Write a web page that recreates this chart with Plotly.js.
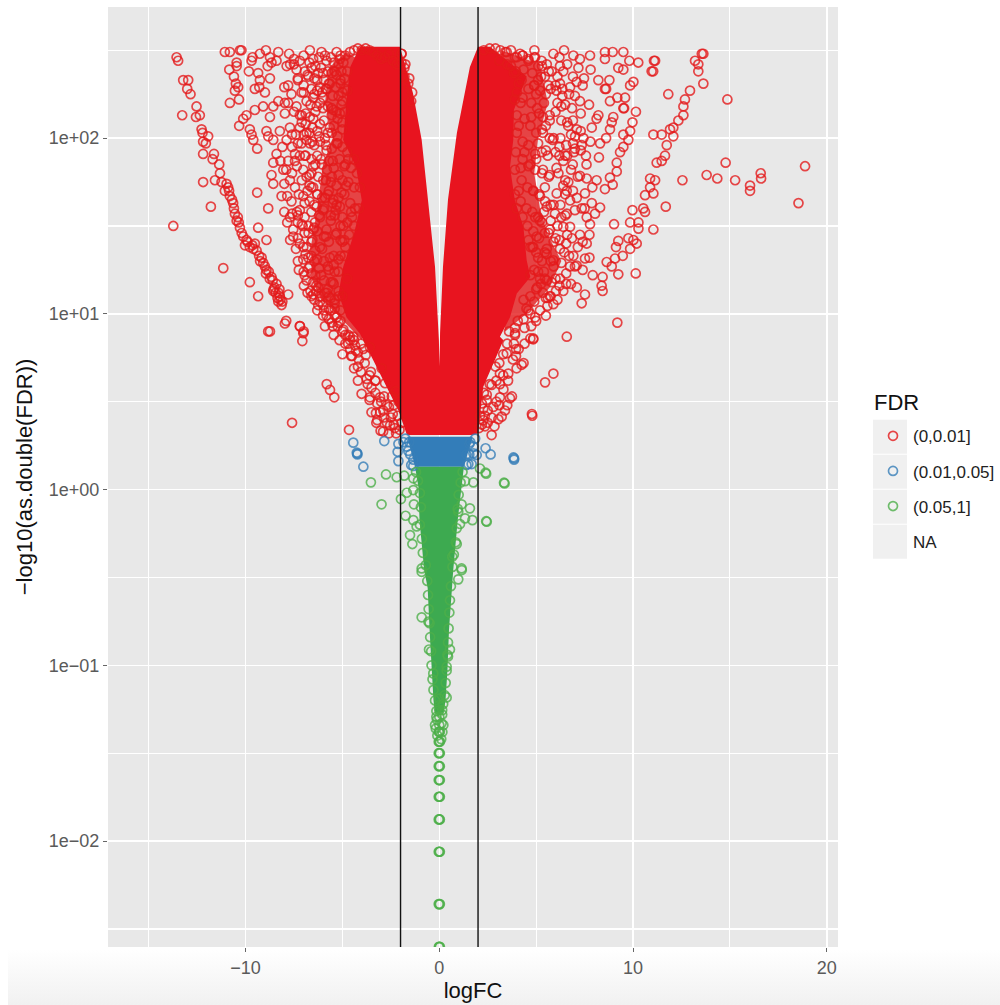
<!DOCTYPE html>
<html><head><meta charset="utf-8">
<script src="https://cdn.plot.ly/plotly-3.0.1.min.js"></script>
<style>
html,body{margin:0;padding:0;background:#fff;width:1000px;height:1005px;overflow:hidden}
#fade{position:absolute;left:8px;top:950px;width:992px;height:55px;background:linear-gradient(#ffffff,#f1f1f1)}
#plot{position:absolute;left:0;top:0;width:1000px;height:1005px}
</style></head><body><div id="fade"></div><div id="plot"></div>
<script>
// logFC and log10 of -log10(FDR)
const redLogFC=[-13.56,-13.48,-13.22,-12.96,-13.01,-12.84,-12.53,-12.56,-12.36,-13.27,-12.27,-12.22,-11.93,-12.19,-12.05,-12.19,-11.63,-11.7,-11.36,-11.32,-11.58,-12.19,-11.24,-10.98,-11.07,-10.81,-10.64,-11.79,-10.55,-10.46,-13.73,-10.29,-10.12,-10.03,-9.78,-9.52,-9.43,-9.17,-9.09,-8.92,-11.15,-8.66,-8.4,-8.57,-8.23,-8.14,-8.31,-7.8,-9.35,-9.78,-9.35,-8.92,-9.4,-8.83,-7.9,-8.83,-7.2,-7.0,
-10.9,-10.7,-10.4,-10.2,-9.9,-9.6,-9.3,-9.0,-8.8,-8.6,-8.5,-8.45,-8.3,-8.2,-8.35,-8.1,-10.85,-10.6,-10.35,-9.95,-9.65,-9.25,-8.95,-8.75,-8.55,-8.25,
-11.07,-10.81,-10.29,-10.21,-10.46,-10.84,-10.46,-10.6,-10.5,-10.55,-10.38,-10.34,-10.81,-9.83,-9.69,-9.64,-9.26,-8.95,-8.74,-8.66,-8.86,-8.4,-8.31,-7.75,-9.35,-9.26,-8.74,-9.52,-9.29,-9.0,-8.0,-7.88,-7.37,-6.94,-7.63,-7.11,-9.52,-9.09,-9.95,-10.12,-10.33,-9.78,-9.69,-9.6,-9.4,-8.92,-8.83,-8.31,-7.97,-7.8,-8.57,-8.74,-7.97,-7.71,-8.23,-8.57,-7.88,-8.4,-8.57,-7.8,-7.45,-7.11,-6.68,-7.2,-7.2,-7.37,-6.68,-6.08,-5.3,-4.61,-7.2,-6.51,-5.82,-5.13,-6.16,-6.51,-5.99,-6.33,-5.65,-6.68,-6.16,-5.13,-5.47,-8.05,-7.45,-8.66,-8.57,-7.71,-7.02,-6.51,-5.82,-8.14,-7.63,-7.02,-6.51,-5.99,-7.71,-7.2,-6.42,-7.54,-7.54,-7.02,-7.02,-6.76,-6.68,-6.16,-5.65,-6.99,-6.16,-5.82,-5.1,-5.82,-5.13,-6.33,-5.47,
-7.5,-7.3,-7.0,-6.8,-6.6,-6.3,-6.0,-5.7,-5.4,-5.1,-7.4,-7.1,-6.85,-6.55,-6.2,-5.9,-5.55,-5.25,-6.95,-6.7,-6.4,-6.1,-5.8,-5.5,-5.2,-4.9,-7.3,-7.05,-6.75,-6.45,-6.15,-5.85,-5.6,-5.3,-5.0,-6.9,-6.6,-6.3,-6.05,-5.75,-5.45,-7.25,-6.95,-6.65,-6.35,-6.1,-5.8,-5.5,-5.2,-6.5,-6.25,-5.95,-5.7,-5.4,-6.6,-6.3,-6.0,-5.7,-5.4,-5.1,-6.45,-6.15,-5.85,-5.55,-5.25,-5.0,-4.75,-5.9,-5.6,-5.3,-5.05,-4.8,-4.55,
-4.4,-4.2,-4.0,-3.8,-3.6,-3.4,-3.2,-3.0,-2.8,-2.6,-2.4,-2.2,-1.95,-1.8,-1.6,-1.45,-4.75,-4.9,-4.95,-5.0,-5.2,-5.4,-5.6,-5.3,-5.5,-5.2,-5.0,-4.85,-4.6,-4.35,-4.2,
-7.97,-7.19,-7.02,-7.07,-8.74,-4.61,-4.7,-4.44,-3.92,-3.8,-3.58,-3.53,-2.98,-2.8,-5.81,-5.64,-5.42,-4.01,-3.58,-3.06,-2.89,-3.27,-3.2,-3.03,-2.54,-2.23,-4.66,-7.6,-4.2,-4.5,-3.7,-3.3,-3.0,-2.7,-2.5,-2.35,
4.91,4.17,3.48,5.28,5.89,6.44,6.92,7.26,7.78,8.55,8.95,9.5,8.55,9.81,10.27,11.14,11.08,10.96,11.04,9.24,9.5,7.81,7.18,6.23,5.11,8.21,7.47,7.09,8.78,8.61,8.55,6.75,6.23,5.63,9.85,10.02,12.94,11.82,13.63,13.63,13.55,13.2,13.37,13.37,12.68,14.87,12.6,12.6,12.34,12.08,11.91,12.08,11.74,11.05,11.48,10.15,9.54,9.5,9.59,9.19,8.81,7.73,7.26,8.21,8.12,7.87,8.98,8.9,9.97,9.85,9.5,8.81,8.61,8.3,7.3,7.44,7.01,7.35,9.76,9.5,9.33,8.24,7.57,6.95,9.16,9.16,6.89,11.65,11.48,11.22,14.78,18.88,13.8,14.35,15.27,12.55,16.59,16.61,16.04,16.04,18.54,11.69,10.88,11.14,10.88,10.62,11.05,10.53,9.97,10.62,9.85,10.28,10.28,9.02,11.05,9.76,9.24,10.02,10.19,9.12,9.85,9.47,9.07,8.64,8.9,9.24,10.14,7.92,8.43,8.38,8.43,7.52,7.35,5.89,5.58,6.4,6.02,9.19,6.58,4.85,3.91,7.52,7.75,7.61,7.78,7.61,7.35,8.3,7.87,8.04,8.55,8.95,8.81,8.12,7.61,7.26,6.66,6.58,7.52,6.75,6.06,5.46,6.58,6.4,5.97,6.75,7.26,5.54,6.23,6.92,7.09,6.23,5.54,5.89,6.75,5.03,5.2,5.71,
5.0,5.4,6.0,5.3,5.7,6.3,6.6,5.1,5.5,5.9,6.2,6.5,6.9,4.9,5.25,5.65,6.05,6.35,4.75,5.15,5.5,5.85,6.2,4.7,5.0,5.35,5.7,6.05,4.85,5.2,5.55,5.9,4.95,5.3,5.65,6.0,4.8,5.1,5.45,5.75,4.7,5.05,5.4,5.7,6.1,4.9,5.25,5.6,4.6,4.95,
2.3,2.6,2.9,3.15,3.4,3.7,4.0,4.3,4.6,3.1,3.5,3.85,4.25,
4.85,5.46,5.89,4.8,4.78,3.96,3.96,4.25,3.99,3.56,3.13,2.7,3.13,3.31,3.65,3.13,2.45,3.51,2.79,3.39,2.27,3.22,2.7,2.27,2.36,2.7,3.91,3.48,
-1.95,-1.75,-1.55,-1.4,-1.95,-1.8];
const redLogY=[2.46,2.44,2.33,2.33,2.28,2.25,2.18,2.12,2.13,2.13,2.05,2.03,2.01,1.98,1.97,1.91,1.91,1.88,1.85,1.80,1.76,1.75,1.75,1.74,1.70,1.67,1.63,1.61,1.57,1.53,1.50,1.49,1.44,1.39,1.38,1.40,1.36,1.32,1.29,1.25,1.26,1.21,1.17,1.13,1.10,1.05,1.07,1.11,1.10,1.18,1.49,1.42,1.69,1.60,.96,.90,.93,.90,
1.72,1.65,1.55,1.46,1.41,1.37,1.33,1.27,1.24,1.19,1.15,1.12,1.12,1.08,1.09,1.07,1.70,1.60,1.52,1.42,1.39,1.30,1.23,1.20,1.14,1.14,
2.49,2.49,2.50,2.50,2.43,2.39,2.41,2.35,2.31,2.27,2.29,2.22,2.20,2.38,2.44,2.46,2.48,2.50,2.46,2.43,2.41,2.44,2.49,2.48,2.37,2.33,2.34,2.28,2.29,2.26,2.29,2.41,2.39,2.38,2.25,2.26,2.16,2.18,2.13,2.11,2.07,2.05,2.02,1.99,1.94,2.04,2.01,2.21,2.20,2.20,2.18,2.12,2.14,2.06,2.04,1.99,1.99,1.91,1.86,1.87,1.91,1.97,1.97,2.06,2.13,2.18,2.50,2.49,2.49,2.49,2.44,2.45,2.44,2.45,2.29,2.23,2.23,2.18,2.06,2.12,2.08,2.14,2.16,1.82,1.87,1.79,1.74,1.76,1.82,1.84,1.93,1.67,1.64,1.67,1.72,1.76,1.55,1.59,1.52,1.48,1.44,1.38,1.31,1.32,1.27,1.38,1.32,1.16,1.07,.99,.96,1.48,1.61,1.61,1.65,
2.42,2.34,2.30,2.36,2.40,2.33,2.37,2.31,2.38,2.33,2.02,2.09,2.03,1.98,2.01,2.0,2.03,1.97,1.90,1.79,1.85,1.88,1.82,1.87,1.79,1.84,1.56,1.50,1.46,1.49,1.55,1.44,1.53,1.46,1.41,1.34,1.41,1.31,1.37,1.27,1.33,1.25,1.22,1.13,1.16,1.22,1.12,1.18,1.10,1.11,1.05,1.02,1.10,1.03,1.72,1.68,1.59,1.70,1.56,1.50,2.25,2.20,2.28,2.17,2.11,2.21,2.27,1.66,1.75,1.62,1.69,1.73,1.58,
2.50,2.51,2.50,2.51,2.50,2.49,2.47,2.45,2.46,2.48,2.44,2.42,2.48,2.40,2.31,2.21,1.20,1.33,1.50,1.10,1.24,1.08,1.02,.98,.93,.95,.90,.88,.85,.82,.78,
.945,.93,.89,.845,.90,.87,.83,.87,.80,.765,.81,.67,.69,.605,.60,.567,.525,.545,.525,.525,.45,.435,.395,.335,.365,.32,.34,.38,.70,.76,.60,.62,.50,.48,.41,.37,
2.50,2.48,2.49,2.44,2.48,2.50,2.47,2.45,2.47,2.49,2.49,2.49,2.45,2.44,2.43,2.44,2.44,2.38,2.38,2.40,2.39,2.39,2.40,2.41,2.41,2.33,2.34,2.32,2.33,2.28,2.28,2.29,2.31,2.30,2.30,2.32,2.27,2.25,2.31,2.48,2.48,2.44,2.42,2.38,2.22,2.22,2.18,2.13,2.10,2.06,2.05,2.01,1.96,2.02,2.02,2.15,2.17,2.17,2.23,2.23,2.21,2.19,2.21,2.13,2.11,2.06,2.12,2.09,2.09,2.04,2.02,2.05,2.0,1.97,2.04,2.0,2.01,1.96,1.99,1.95,1.92,1.89,1.90,1.92,1.86,1.81,1.85,1.90,1.87,1.86,1.86,1.84,1.79,1.77,1.76,1.76,1.80,1.77,1.73,1.70,1.63,1.61,1.77,1.76,1.72,1.675,1.685,1.60,1.59,1.58,1.52,1.52,1.485,1.51,1.48,1.43,1.415,1.42,1.40,1.38,1.37,1.33,1.315,1.295,1.27,1.225,1.23,1.22,1.21,1.16,1.13,1.11,1.06,1.055,1.045,1.13,1.13,.95,.87,.86,.88,1.315,1.45,1.40,1.51,1.55,1.60,1.605,1.63,1.57,1.71,1.735,1.775,1.76,1.77,1.785,1.75,1.70,1.685,1.645,1.685,1.64,1.57,1.495,1.57,1.495,1.45,1.34,1.37,1.33,1.275,1.20,1.19,1.305,1.27,1.44,1.53,1.48,
2.25,2.20,2.15,2.05,2.10,2.18,2.09,1.97,1.93,2.0,1.95,1.90,1.97,2.30,2.35,2.38,2.27,2.24,2.12,2.14,2.07,1.99,1.90,1.85,1.88,1.82,1.79,1.83,1.70,1.67,1.61,1.62,1.55,1.52,1.46,1.43,1.38,1.32,1.35,1.30,1.22,1.15,1.24,1.10,1.08,1.25,1.17,1.09,1.02,.98,
2.50,2.51,2.51,2.50,2.49,2.50,2.46,2.47,2.45,2.44,2.42,2.37,2.33,
.855,.61,.66,.42,.43,.80,.76,.71,.69,.66,.66,.595,.60,.57,.52,.525,.51,.48,.47,.45,.46,.415,.41,.395,.36,.31,.89,.775,
2.48,2.42,2.34,2.26,2.43,2.35];
const crowdLeftLogFC=[-6.2,-5.9,-5.6,-5.45,-5.2,-4.95,-6.4,-6.1,-5.75,-5.55,-5.3,-5.05,-6.75,-6.45,-6.25,-5.95,-5.65,-5.35,-5.1,-4.9,-6.3,-6.05,-5.8,-5.5,-5.2,-5.0,-6.85,-6.65,-6.4,-6.0,-5.75,-5.55,-5.3,-5.05,-6.9,-6.55,-6.3,-5.95,-5.75,-5.45,-5.25,-5.0,-6.85,-6.45,-6.15,-5.85,-5.55,-5.3,-5.0,-4.75,-7.2,-6.9,-6.6,-6.3,-6.05,-5.7,-5.45,-5.15,-4.85,-4.55,-6.85,-6.6,-6.25,-5.85,-5.55,-5.3,-5.0,-4.7,-4.4,-6.8,-6.3,-6.05,-5.75,-5.5,-5.2,-4.9,-4.6,-4.35,-7.3,-6.95,-6.6,-6.2,-5.95,-5.6,-5.35,-5.0,-4.75,-4.5,-7.3,-6.95,-6.55,-6.3,-5.95,-5.7,-5.35,-5.1,-4.85,-6.75,-6.45,-6.2,-5.95,-5.7,-5.45,-5.2,-6.5,-6.25,-5.95,-5.75,-5.45,-5.2,-6.45,-6.0,-5.7,-5.4,-5.1,-5.55,-5.25,-4.95,-4.7,-4.4,-4.05,-4.55,-4.15,-3.85,-3.6,-3.3,-3.3,-2.85,-2.6,-2.4,-2.7,-2.3,-2.05,-1.95,-2.1,
-7.7,-7.5,-7.0,-6.7,-7.3,-7.8,-7.0,-6.6,-7.5,-7.1,-6.9,-6.5,-7.6,-7.3,-7.0,-6.7,-8.1,-7.6,-8.2,-7.9,-7.6,-7.35,-7.1,-6.7,-8.0,-7.85,-7.45,-7.25,-6.95,-6.7,-6.45,-8.0,-7.85,-7.6,-7.35,-7.1,-6.75,-6.5,-7.7,-7.4,-7.2,-6.85,-6.6,-6.4,-7.3,-7.0,-6.85,-6.6,-6.4,-6.8,-6.6,-6.35,-6.15,-6.3,-6.0,-5.7,-5.4,-5.9,-5.45,-5.15,-4.85,-5.0,-4.6,-4.3,-4.4,-4.05,-3.75,-4.2,-3.5,-3.6,-3.2,-3.05,-2.85,-3.5,-3.25,-2.9,-2.6,-2.35,-2.15,-2.25,-2.45,
-5.1,-4.85,-4.75,-4.85,-4.9,-5.0,-4.7,-4.4,-4.25,-4.1,-4.15,-4.4,-4.65,-4.9,-5.1,-5.4,-5.6,-5.9,-5.6];
const crowdLeftLogY=[2.46,2.47,2.46,2.43,2.42,2.43,2.41,2.4,2.38,2.37,2.36,2.38,2.35,2.34,2.37,2.33,2.31,2.29,2.31,2.34,2.27,2.26,2.28,2.24,2.24,2.26,2.21,2.19,2.15,2.17,2.18,2.13,2.15,2.19,2.08,2.06,2.04,2.10,2.03,2.07,2.01,2.09,1.99,1.96,1.98,1.96,1.94,1.97,1.95,1.92,1.9,1.9,1.88,1.9,1.85,1.87,1.83,1.88,1.85,1.83,1.78,1.8,1.78,1.76,1.78,1.73,1.76,1.75,1.72,1.7,1.68,1.66,1.68,1.63,1.66,1.68,1.63,1.6,1.52,1.55,1.58,1.56,1.6,1.56,1.59,1.55,1.52,1.55,1.43,1.46,1.42,1.47,1.44,1.41,1.45,1.42,1.38,1.26,1.3,1.26,1.3,1.25,1.28,1.31,1.18,1.15,1.19,1.14,1.17,1.13,1.08,1.05,1.03,1.06,1.02,.95,.93,.91,.88,.85,.83,.76,.74,.72,.65,.62,.55,.53,.47,.43,.38,.35,.34,.38,.5,
2.42,2.45,2.47,2.43,2.33,2.3,2.26,2.28,2.15,2.13,2.14,2.11,2.02,1.97,2.02,2.03,1.95,1.95,1.87,1.82,1.8,1.84,1.76,1.73,1.74,1.67,1.72,1.68,1.63,1.64,1.62,1.58,1.52,1.57,1.58,1.51,1.5,1.48,1.42,1.37,1.4,1.38,1.33,1.36,1.3,1.24,1.19,1.23,1.22,1.12,1.1,1.13,1.1,1.02,.99,.97,.99,.93,.88,.85,.83,.77,.8,.79,.69,.67,.63,.62,.58,.51,.49,.44,.41,.44,.38,.33,.32,.48,.42,.56,.53,
2.47,2.47,2.38,2.28,2.15,2.05,1.88,1.88,1.8,1.72,1.6,1.5,1.45,1.42,1.33,1.24,1.18,1.12,1.09];
const crowdRightLogFC=[3.9,4.3,4.6,4.95,5.3,5.55,5.8,6.1,3.95,4.35,4.8,5.1,5.45,5.75,6.0,6.35,4.1,4.6,4.9,5.2,5.5,6.1,6.5,6.85,3.9,4.3,4.75,5.05,5.35,5.7,6.3,6.65,4.0,4.4,4.7,5.0,5.35,5.7,6.25,6.55,4.0,4.3,4.6,4.95,5.3,5.6,6.0,6.4,3.95,4.3,4.6,4.95,5.3,5.65,6.15,6.5,3.9,4.25,4.55,4.85,5.15,5.45,5.75,6.25,3.9,4.2,4.5,4.8,5.1,5.4,5.75,6.1,4.55,4.85,5.15,5.45,5.9,6.2,6.55,4.7,5.0,5.3,5.55,5.9,6.3,6.55,5.1,5.45,5.8,5.35,5.0,4.7,4.35,4.7,4.35,4.05,4.4,3.9,3.6,3.85,3.5,3.3,3.1,2.9,2.95,2.6,2.45,2.3,2.2,2.1,2.2,2.05,
6.2,6.6,6.4,6.9,7.4,6.7,7.0,7.3,6.9,7.1,6.8,7.0,6.6,7.3,7.8,7.6,6.8,7.15,6.5,6.9,7.1,6.4,7.9,6.3,6.5,7.0,7.5,6.6,6.85,7.15,7.4,6.45,6.7,7.0,7.4,7.75,6.55,6.2,6.0,5.75,6.8,7.1,5.5,5.2,5.0,4.75,5.5,4.7,4.4,4.1,4.35,3.8,3.55,3.3,3.75,3.1,2.95,2.5,2.5,2.85,3.05,2.35,
4.9,3.7,4.0,4.2,4.1,4.4,4.2,4.1,4.0,4.3,4.6,4.85,5.2,4.9,4.5];
const crowdRightLogY=[2.46,2.47,2.44,2.46,2.41,2.42,2.38,2.35,2.38,2.39,2.37,2.33,2.35,2.28,2.3,2.28,2.31,2.28,2.3,2.27,2.25,2.2,2.19,2.17,2.22,2.23,2.2,2.17,2.12,2.13,2.1,2.07,2.13,2.11,2.07,2.03,2.03,2.0,2.0,1.96,2.03,1.98,1.96,1.91,1.92,1.9,1.92,1.87,1.92,1.88,1.84,1.82,1.8,1.78,1.8,1.76,1.82,1.76,1.72,1.7,1.68,1.72,1.62,1.62,1.68,1.64,1.6,1.58,1.55,1.58,1.53,1.5,1.5,1.47,1.43,1.46,1.41,1.42,1.4,1.38,1.35,1.3,1.37,1.27,1.29,1.23,1.24,1.2,1.18,1.12,1.14,1.1,1.08,1.0,.97,.96,.92,.92,.9,.83,.83,.77,.72,.7,.62,.6,.54,.55,.49,.42,.37,.35,
2.46,2.42,2.38,2.35,2.3,2.25,2.24,2.14,2.1,2.05,2.02,1.94,1.9,1.93,1.98,1.85,1.82,1.78,1.68,1.7,1.66,1.73,1.72,1.55,1.56,1.59,1.6,1.45,1.43,1.38,1.41,1.35,1.33,1.27,1.25,1.32,1.17,1.16,1.2,1.1,1.17,1.15,1.09,1.02,.96,.93,.99,.86,.83,.8,.72,.74,.62,.65,.53,.48,.5,.45,.38,.36,.4,.42,
2.46,2.41,2.26,2.2,2.07,1.92,1.83,1.7,1.6,1.55,1.42,1.38,1.2,1.07,1.03];
const blueLogFC=[-4.44,-4.23,-4.23,-3.92,-2.84,-2.11,-2.15,-2.11,-1.34,-1.34,-1.68,1.5,1.76,1.93,1.67,2.39,2.65,3.86,3.86,3.83,1.76,-1.85,-1.6,1.55,1.4,-4.26,-1.55,-1.5,-1.45,1.6,1.55,1.4,-1.75,1.85];
const blueLogY=[.267,.205,.20,.13,.276,.26,.215,.162,.17,.134,.244,.145,.244,.197,.145,.235,.2,.177,.17,.183,.206,.27,.22,.26,.2,.21,.27,.2,.14,.27,.2,.14,.29,.29];
const greenLogFC=[-3.53,-2.75,-2.2,-1.81,-1.34,-2.98,-1.98,-1.68,-1.34,-1.31,-1.74,-1.34,-1.51,-1.39,-1.17,-.91,2.39,2.42,3.34,3.37,2.45,2.42,1.76,1.33,2.1,1.15,1.58,.98,1.33,1.71,1.07,.9,.67,1.15,-.91,1.16,.98,-.91,-.56,-.53,.55,.38,.38,-.31,.45,
0,0,0,0,0,0,0,0,0,0,0,0,0,0,0,.03,-.03,.03,-.03,.03,-.03,.03,-.03,.03,-.03,.03,-.03,.03,-.03,.03,-.03,.03,-.03,.03,-.22,.21,-.15,.15,-.02,
-1.2,-1.1,-1.0,-.95,-1.0,-.9,-.85,-.7,1.2,1.1,1.0,.95,.9,.85,.75,.68,-.62,.6,-.58,.55,-.55,.52,-.5,.48,-.47,.45,-.42,.42,-.4,.38,-.35,.33,-.3,.28,-.22,.2,-.15,.15,-.12,.12,-.18,.16,-.1,.1];
const greenLogY=[.041,.086,.07,.079,.064,-.084,-.054,-.018,-.003,-.084,-.149,-.174,-.259,-.31,-.21,-.449,.096,.09,.039,.035,-.183,-.18,.041,.048,.12,-.084,-.107,-.126,-.164,-.174,-.196,-.31,-.382,-.449,-.468,-.458,-.511,-.727,-.752,-.91,-.91,-1.008,-1.183,-1.046,-.95,
-1.19,-1.226,-1.255,-1.293,-1.34,-1.378,-1.435,-1.5,-1.574,-1.653,-1.748,-1.877,-2.061,-2.359,-2.602,-1.5,-1.5,-1.574,-1.574,-1.653,-1.653,-1.748,-1.748,-1.877,-1.877,-2.061,-2.061,-2.359,-2.359,-1.435,-1.435,-1.378,-1.378,-2.602,-1.34,-1.34,-1.293,-1.255,-2.602,
.1,.05,-.02,-.1,-.2,-.28,-.36,-.43,.1,.04,-.03,-.11,-.22,-.3,-.37,-.44,-.52,-.55,-.6,-.63,-.68,-.7,-.76,-.79,-.84,-.87,-.92,-.94,-1,-1.03,-1.08,-1.1,-1.14,-1.17,-1.2,-1.22,-1.26,-1.28,-1.31,-1.33,-1.36,-1.38,-1.4,-1.42];
// outlines of the solid masses where single rings can no longer be read
const solidRedLogFC=[-4.1,-4.6,-4.79,-4.96,-4.3,-4.0,-4.4,-4.96,-5.2,-4.79,-4.1,-3.58,-2.89,-2.11,-1.67,1.76,2.0,2.27,3.31,3.13,3.65,4.0,4.7,4.51,4.34,3.9,3.65,3.82,3.85,4.51,3.3,2.62,2.0,1.58,.91,.45,.19,.04,.01,-.02,-.22,-.58,-.91,-1.36,-1.94,-2.03,-4.1];
const solidRedLogY=[2.52,2.405,2.216,1.99,1.836,1.646,1.457,1.267,1.115,.98,.888,.775,.623,.45,.31,.31,.32,.585,.85,.87,.98,1.115,1.21,1.305,1.495,1.646,1.836,1.99,2.16,2.35,2.46,2.52,2.52,2.405,2.03,1.65,1.266,.89,.70,.85,1.266,1.65,1.99,2.257,2.485,2.52,2.52];
const denseLeftLogFC=[-4.8,-5.7,-5.9,-5.5,-6.0,-6.3,-6.6,-6.6,-6.1,-5.3,-4.0,-3.0,-3.5,-4.8];
const denseLeftLogY=[2.49,2.4,2.2,2.0,1.85,1.6,1.4,1.2,1.08,1.0,.85,1.5,2.4,2.49];
const denseRightLogFC=[3.2,5.2,5.6,5.1,4.9,5.2,5.6,6.3,5.7,4.5,3.4,3.0,3.2];
const denseRightLogY=[2.5,2.42,2.2,2.0,1.8,1.6,1.45,1.3,1.15,1.0,.9,1.5,2.5];
const solidBlueLogFC=[-1.65,1.72,1.27,-1.25,-1.65];
const solidBlueLogY=[.301,.301,.13,.13,.301];
const solidGreenLogFC=[-1.25,1.27,1.15,.95,.72,.66,.5,.42,.32,.22,-.22,-.3,-.4,-.5,-.6,-.78,-1.02,-1.08,-1.25];
const solidGreenLogY=[.13,.13,.016,-.174,-.458,-.56,-.8,-1.03,-1.2,-1.27,-1.27,-1.2,-1.03,-.8,-.56,-.458,-.174,.016,.13];
const cutoffs=[-2,2];
const seriesNames=['(0,0.01]','(0.01,0.05]','(0.05,1]','NA'];
const xTickVals=[-10,0,10,20], xTickText=['−10','0','10','20'], xMinor=[-15,-5,5,15];
const yTickVals=[0.01,0.1,1,10,100], yTickText=['1e−02','1e−01','1e+00','1e+01','1e+02'];
const yMinor=[0.00316,0.0316,0.316,3.16,31.6,316];

const RED='#E41A1C',BLUE='#377EB8',GREEN='#4DAF4A';
const pow=a=>a.map(v=>Math.pow(10,v));
const area=(xs,ys,c,op)=>({x:xs,y:pow(ys),mode:'lines',fill:'toself',fillcolor:c,line:{width:0},opacity:op,showlegend:false,hoverinfo:'skip',type:'scatter'});
const rings=(xs,ys,c,name)=>({x:xs,y:pow(ys),name:name,type:'scatter',mode:'markers',
  marker:{symbol:'circle-open',size:9,color:c,opacity:.8,line:{width:1.7,color:c}}});
const traces=[
 area(denseLeftLogFC,denseLeftLogY,RED,.8),
 area(denseRightLogFC,denseRightLogY,RED,.8),
 area(solidRedLogFC,solidRedLogY,'#E8141F',1),
 area(solidBlueLogFC,solidBlueLogY,'#337DB9',1),
 area(solidGreenLogFC,solidGreenLogY,'#3DAA50',1),
 rings(redLogFC.concat(crowdLeftLogFC,crowdRightLogFC),redLogY.concat(crowdLeftLogY,crowdRightLogY),RED,seriesNames[0]),
 rings(blueLogFC,blueLogY,BLUE,seriesNames[1]),
 rings(greenLogFC,greenLogY,GREEN,seriesNames[2]),
 {x:[null],y:[null],name:seriesNames[3],type:'scatter',mode:'markers',marker:{symbol:'circle-open',size:8,opacity:0,color:'#f0f0f0'}}
];
traces.forEach((t,i)=>{if(t.name)t.legendgroup='g'+i;});
const W=730,H=940.5;
const keyTops=[420,455,490,525];
const shapes=cutoffs.map(c=>({type:'line',xref:'x',yref:'paper',x0:c,x1:c,y0:0,y1:1,line:{color:'#111',width:1.4}}));
keyTops.forEach(t=>shapes.push({type:'rect',xref:'paper',yref:'paper',layer:'below',
  x0:(873-108)/W,x1:(907-108)/W,y0:(947.5-t)/H,y1:(947.5-t-34)/H,fillcolor:'#f0f0f0',line:{width:0}}));
const tickFont={family:'Liberation Sans',size:18,color:'#5a5a5a'};
const titleFont={family:'Liberation Sans',size:22,color:'#111'};
const layout={width:1000,height:1005,margin:{l:108,r:162,t:7,b:57.5,pad:0,autoexpand:false},
 paper_bgcolor:'rgba(0,0,0,0)',plot_bgcolor:'#E8E8E8',font:{family:'Liberation Sans'},
 showlegend:true,shapes:shapes,
 annotations:[{text:'FDR',xref:'paper',yref:'paper',x:(874-108)/W,y:(947.5-403)/H,xanchor:'left',yanchor:'middle',showarrow:false,xshift:-2,
   font:{family:'Liberation Sans',size:22,color:'#111'}}],
 legend:{x:(873-108)/W,y:(947.5-418.5)/H,xanchor:'left',yanchor:'top',bgcolor:'rgba(0,0,0,0)',
   font:{family:'Liberation Sans',size:17,color:'#222'},
   tracegroupgap:10,itemwidth:30,itemsizing:'trace',traceorder:'grouped'},
 xaxis:{range:[-17.1,20.58],tickmode:'array',tickvals:xTickVals,ticktext:xTickText,tickfont:tickFont,
   ticks:'outside',ticklen:4,tickcolor:'#666',tickwidth:1,showline:false,zeroline:false,
   showgrid:true,gridcolor:'#fff',gridwidth:1.5,
   minor:{tickmode:'array',tickvals:xMinor,showgrid:true,gridcolor:'#fff',gridwidth:1.1,ticks:''},
   title:{text:'logFC',font:titleFont,standoff:3}},
 yaxis:{type:'log',range:[-2.603,2.746],tickmode:'array',tickvals:yTickVals,ticktext:yTickText,tickfont:tickFont,
   ticks:'outside',ticklen:4,tickcolor:'#666',tickwidth:1,showline:false,zeroline:false,
   showgrid:true,gridcolor:'#fff',gridwidth:1.5,
   minor:{tickmode:'array',tickvals:yMinor,showgrid:true,gridcolor:'#fff',gridwidth:1.1,ticks:''},
   title:{text:'−log10(as.double(FDR))',font:titleFont,standoff:10}}
};
Plotly.newPlot('plot',traces,layout,{displayModeBar:false,staticPlot:true});
</script></body></html>
